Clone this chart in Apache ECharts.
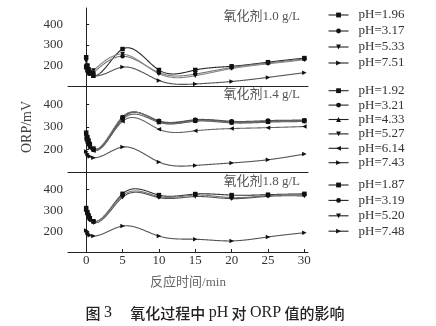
<!DOCTYPE html>
<html>
<head>
<meta charset="utf-8">
<script src="https://cdn.jsdelivr.net/npm/echarts@6/dist/echarts.min.js"></script>
<style>
html,body{margin:0;padding:0;background:#fff;}
#chart{width:436px;height:326px;}
</style>
</head>
<body>
<div id="chart"></div>
<script>
// Sampling times (min) shared by every curve
const times = [0, 0.17, 0.33, 0.5, 1, 5, 10, 15, 20, 25, 30];
const xTickValues = [0, 5, 10, 15, 20, 25, 30];
const yTickValues = [200, 300, 400];
const panelTitles = ['氧化剂1.0 g/L', '氧化剂1.4 g/L', '氧化剂1.8 g/L'];

// Oxidant 1.0 g/L
const names1 = ['pH=1.96', 'pH=3.17', 'pH=5.33', 'pH=7.51'];
const orp196 = [240, 200, 180, 165, 150, 280, 178, 178, 196, 216, 236];
const orp317 = [200, 185, 170, 160, 165, 245, 165, 158, 190, 212, 232];
const orp533 = [220, 195, 180, 170, 175, 255, 160, 150, 185, 208, 228];
const orp751 = [190, 175, 165, 158, 150, 192, 127, 110, 122, 142, 165];

// Oxidant 1.4 g/L
const names2 = ['pH=1.92', 'pH=3.21', 'pH=4.33', 'pH=5.27', 'pH=6.14', 'pH=7.43'];
const orp192 = [275, 255, 240, 225, 205, 342, 325, 330, 322, 325, 328];
const orp321 = [265, 248, 232, 220, 202, 338, 327, 332, 325, 328, 330];
const orp433 = [255, 240, 228, 215, 200, 345, 322, 327, 320, 323, 326];
const orp527 = [245, 232, 222, 212, 198, 333, 320, 325, 318, 321, 324];
const orp614 = [240, 228, 218, 208, 196, 325, 290, 283, 293, 297, 302];
const orp743 = [192, 182, 175, 170, 165, 212, 146, 131, 142, 156, 181];

// Oxidant 1.8 g/L
const names3 = ['pH=1.87', 'pH=3.19', 'pH=5.20', 'pH=7.48'];
const orp187 = [310, 290, 275, 262, 247, 378, 372, 377, 372, 374, 378];
const orp319 = [300, 282, 268, 256, 244, 370, 365, 372, 360, 370, 375];
const orp520 = [290, 275, 262, 252, 240, 362, 360, 365, 355, 366, 368];
const orp748 = [203, 192, 185, 180, 176, 224, 176, 161, 153, 172, 192];

const panels = [
  { names: names1, values: [orp196, orp317, orp533, orp751], symbols: ['square', 'circle', 'down', 'right'], colors: ['#2a2a2a', '#777', '#888', '#555'] },
  { names: names2, values: [orp192, orp321, orp433, orp527, orp614, orp743], symbols: ['square', 'circle', 'up', 'down', 'left', 'right'], colors: ['#333', '#555', '#777', '#666', '#666', '#555'] },
  { names: names3, values: [orp187, orp319, orp520, orp748], symbols: ['square', 'circle', 'down', 'right'], colors: ['#333', '#777', '#555', '#555'] }
];

const SYM = {
  square: 'rect',
  circle: 'circle',
  up: 'triangle',
  down: 'path://M0,0 L10,0 L5,10 Z',
  left: 'path://M10,0 L10,10 L0,5 Z',
  right: 'path://M0,0 L10,5 L0,10 Z'
};

const serif = 'Liberation Serif, "Noto Sans CJK SC", serif';

// Natural cubic spline through (xs, ys); returns an evaluator
function naturalSpline(xs, ys) {
  const n = xs.length;
  const h = [];
  for (let i = 0; i < n - 1; i++) h.push(xs[i + 1] - xs[i]);
  const a = new Array(n).fill(0), b = new Array(n).fill(1), c = new Array(n).fill(0), d = new Array(n).fill(0);
  for (let i = 1; i < n - 1; i++) {
    a[i] = h[i - 1];
    b[i] = 2 * (h[i - 1] + h[i]);
    c[i] = h[i];
    d[i] = 6 * ((ys[i + 1] - ys[i]) / h[i] - (ys[i] - ys[i - 1]) / h[i - 1]);
  }
  // Thomas algorithm
  for (let i = 1; i < n; i++) {
    const w = a[i] / b[i - 1];
    b[i] -= w * c[i - 1];
    d[i] -= w * d[i - 1];
  }
  const M = new Array(n).fill(0);
  M[n - 1] = d[n - 1] / b[n - 1];
  for (let i = n - 2; i >= 0; i--) M[i] = (d[i] - c[i] * M[i + 1]) / b[i];
  return function (x) {
    let i = 0;
    while (i < n - 2 && x > xs[i + 1]) i++;
    const hi = h[i], A = xs[i + 1] - x, B = x - xs[i];
    return M[i] * A * A * A / (6 * hi) + M[i + 1] * B * B * B / (6 * hi)
      + (ys[i] / hi - M[i] * hi / 6) * A + (ys[i + 1] / hi - M[i + 1] * hi / 6) * B;
  };
}

const grids = [
  { left: 68, width: 240, top: 8, height: 78 },
  { left: 68, width: 240, top: 86, height: 86.5 },
  { left: 68, width: 240, top: 172.5, height: 79.5 }
];

const xAxes = grids.map((g, i) => ({
  type: 'value',
  gridIndex: i,
  min: -2.5,
  max: 30.5,
  axisLine: { show: true, lineStyle: { color: '#222', width: 1 } },
  axisTick: i === 2 ? { show: true, inside: true, length: 3, customValues: xTickValues, lineStyle: { color: '#222' } } : { show: false },
  axisLabel: i === 2 ? { show: true, customValues: xTickValues, margin: 2, fontFamily: serif, fontSize: 13, color: '#333' } : { show: false },
  splitLine: { show: false },
  name: i === 2 ? '反应时间/min' : '',
  nameLocation: 'middle',
  nameGap: 24,
  nameTextStyle: { fontFamily: serif, fontSize: 13, color: '#666' }
}));

const yAxes = grids.map((g, i) => ({
  type: 'value',
  gridIndex: i,
  min: 100,
  max: 480,
  axisLine: { show: true, lineStyle: { color: '#222', width: 1 } },
  axisTick: { show: true, inside: true, length: 3, customValues: yTickValues, lineStyle: { color: '#222' } },
  axisLabel: { show: true, customValues: yTickValues, margin: 5, fontFamily: serif, fontSize: 13, color: '#333' },
  splitLine: { show: false }
}));

const series = [];
panels.forEach((p, g) => {
  // Spline curves, one per pH, drawn through the panel's axes
  series.push({
    type: 'custom',
    coordinateSystem: 'cartesian2d',
    xAxisIndex: g,
    yAxisIndex: g,
    silent: true,
    z: 1,
    data: p.values.map((v, k) => [k, 300]),
    renderItem: function (params, api) {
      const k = api.value(0);
      const vals = p.values[k];
      const f = naturalSpline(times, vals);
      const pts = [];
      const x0 = times[0], x1 = times[times.length - 1];
      const steps = 400;
      for (let s = 0; s <= steps; s++) {
        const x = x0 + (x1 - x0) * s / steps;
        pts.push(api.coord([x, f(x)]));
      }
      return {
        type: 'polyline',
        shape: { points: pts },
        style: { stroke: p.colors[k], lineWidth: 1.1, fill: null }
      };
    }
  });
  // Measured points with markers
  p.names.forEach((name, k) => {
    series.push({
      type: 'line',
      name: name,
      xAxisIndex: g,
      yAxisIndex: g,
      z: 3,
      data: times.map((t, i) => [t, p.values[k][i]]),
      symbol: SYM[p.symbols[k]],
      symbolSize: 4.5,
      lineStyle: { opacity: 0 },
      itemStyle: { color: '#111' },
      color: '#111'
    });
  });
});

function legend(names, top, rowH) {
  return {
    data: names,
    orient: 'vertical',
    left: 328,
    top: top,
    itemGap: 0,
    itemWidth: 20,
    itemHeight: 6,
    selectedMode: false,
    padding: 0,
    lineStyle: { color: '#222', width: 1.1, opacity: 1 },
    textStyle: { fontFamily: serif, fontSize: 13, color: '#333', lineHeight: rowH, padding: [0, 0, 0, 5] }
  };
}

const chart = echarts.init(document.getElementById('chart'), null, { renderer: 'canvas' });
chart.setOption({
  animation: false,
  backgroundColor: '#fff',
  grid: grids,
  xAxis: xAxes,
  yAxis: yAxes,
  series: series,
  legend: [
    legend(names1, 7, 16),
    legend(names2, 83.5, 14.4),
    legend(names3, 177.3, 15.4)
  ],
  graphic: [
    { type: 'text', x: 300, y: 17, style: { text: panelTitles[0], font: '13px ' + serif, fill: '#555', align: 'right', verticalAlign: 'middle' } },
    { type: 'text', x: 300, y: 95, style: { text: panelTitles[1], font: '13px ' + serif, fill: '#555', align: 'right', verticalAlign: 'middle' } },
    { type: 'text', x: 300, y: 182, style: { text: panelTitles[2], font: '13px ' + serif, fill: '#555', align: 'right', verticalAlign: 'middle' } },
    { type: 'text', x: 27, y: 127, rotation: Math.PI / 2, style: { text: 'ORP/mV', font: '14px ' + serif, fill: '#444', align: 'center', verticalAlign: 'middle' } },
    {
      type: 'text', x: 215, y: 313,
      style: {
        text: '{h|图} {l|3}　 {h|氧化过程中} {l|pH} {h|对} {l|ORP} {h|值的影响}',
        align: 'center', verticalAlign: 'middle',
        font: '15px "Noto Sans CJK SC", sans-serif', fill: '#222',
        rich: {
          h: { fontFamily: '"Noto Sans CJK SC", sans-serif', fontSize: 15, fontWeight: 500, fill: '#222' },
          l: { fontFamily: 'Liberation Serif, serif', fontSize: 16, fill: '#222' }
        }
      }
    }
  ]
});
</script>
</body>
</html>
